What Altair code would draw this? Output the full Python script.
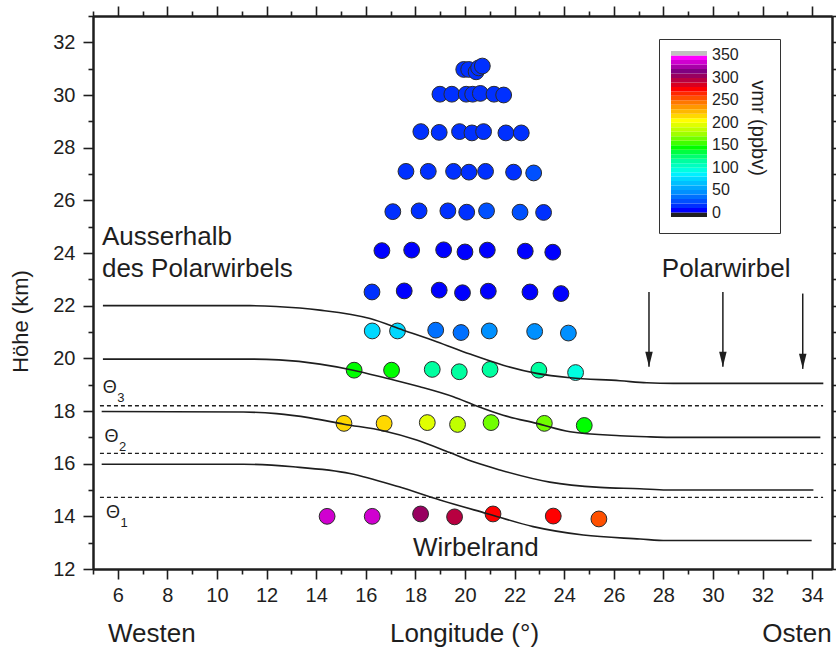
import altair as alt
import pandas as pd

FONT = "Liberation Sans"
INK = "#1e1e1e"

# ---------------- balloon soundings ----------------
row14_lon = [14.44, 16.26, 18.21, 19.58, 21.13, 23.56, 25.40]
row14_alt = [14.00, 14.00, 14.09, 13.98, 14.09, 14.01, 13.90]
row14_vmr = [335, 335, 305, 295, 275, 275, 255]

row17_lon = [15.12, 16.74, 18.48, 19.70, 21.05, 23.20, 24.81]
row17_alt = [17.53, 17.53, 17.56, 17.49, 17.56, 17.53, 17.45]
row17_vmr = [215, 215, 195, 185, 165, 165, 145]

row19_lon = [15.53, 17.04, 18.68, 19.77, 21.01, 22.98, 24.46]
row19_alt = [19.55, 19.55, 19.58, 19.49, 19.58, 19.55, 19.46]
row19_vmr = [145, 145, 115, 115, 112, 115, 95]

row21_lon = [16.26, 17.28, 18.82, 19.84, 20.98, 22.81, 24.17]
row21_alt = [21.04, 21.04, 21.07, 20.98, 21.04, 21.02, 20.96]
row21_vmr = [75, 75, 35, 35, 45, 45, 45]

row22_lon = [16.25, 17.55, 18.96, 19.90, 20.94, 22.62, 23.87]
row22_alt = [22.52, 22.56, 22.59, 22.49, 22.55, 22.52, 22.46]
row22_vmr = [15, 5, 5, 5, 5, 5, 5]

row24_lon = [16.65, 17.85, 19.14, 20.00, 20.90, 22.43, 23.54]
row24_alt = [24.09, 24.11, 24.12, 24.04, 24.11, 24.07, 24.03]
row24_vmr = [5, 5, 5, 5, 5, 5, 5]

row25_lon = [17.09, 18.15, 19.31, 20.07, 20.87, 22.22, 23.17]
row25_alt = [25.57, 25.60, 25.60, 25.55, 25.60, 25.55, 25.54]
row25_vmr = [15, 15, 15, 15, 25, 25, 15]

row27_lon = [17.62, 18.52, 19.54, 20.16, 20.83, 21.96, 22.77]
row27_alt = [27.10, 27.10, 27.10, 27.07, 27.10, 27.07, 27.04]
row27_vmr = [15, 15, 15, 15, 15, 15, 25]

row28_lon = [18.22, 18.96, 19.78, 20.28, 20.75, 21.65, 22.27]
row28_alt = [28.61, 28.58, 28.61, 28.56, 28.61, 28.56, 28.56]
row28_vmr = [15, 15, 15, 15, 15, 15, 15]

row30_lon = [18.99, 19.47, 20.05, 20.31, 20.62, 21.17, 21.56]
row30_alt = [30.03, 30.03, 30.03, 30.03, 30.06, 30.03, 30.00]
row30_vmr = [15, 15, 15, 15, 15, 15, 15]

row31_lon = [19.95, 20.15, 20.45, 20.55, 20.70]
row31_alt = [30.97, 30.97, 30.88, 31.03, 31.10]
row31_vmr = [15, 15, 15, 15, 15]

# ---------------- isentropes (solid) ----------------
c1_lon = [5.40, 11.33, 13.34, 14.15, 16.17, 17.51, 18.86, 20.20, 21.54, 22.89, 24.24, 26.25, 27.33, 28.40, 34.45]
c1_alt = [22.00, 22.00, 21.91, 21.83, 21.51, 21.07, 20.63, 20.16, 19.74, 19.43, 19.26, 19.15, 19.07, 19.05, 19.05]
c2_lon = [5.40, 11.33, 12.50, 14.15, 15.49, 16.84, 18.18, 19.53, 20.47, 21.54, 22.89, 24.24, 26.25, 27.33, 28.27, 34.33]
c2_alt = [19.97, 19.97, 19.94, 19.78, 19.55, 19.24, 18.92, 18.54, 18.19, 17.84, 17.53, 17.21, 17.06, 17.02, 17.00, 17.00]
c3_lon = [5.35, 11.06, 12.40, 13.75, 15.12, 16.74, 18.05, 19.39, 20.40, 21.41, 23.42, 25.44, 27.05, 28.13, 34.05]
c3_alt = [17.98, 17.96, 17.90, 17.74, 17.50, 17.24, 16.90, 16.42, 16.05, 15.76, 15.30, 15.10, 15.05, 15.00, 15.00]
c4_lon = [5.35, 11.06, 13.07, 15.36, 17.34, 18.99, 20.87, 22.75, 24.77, 27.06, 28.13, 33.98]
c4_alt = [15.98, 15.98, 15.88, 15.63, 15.12, 14.62, 14.11, 13.61, 13.29, 13.14, 13.08, 13.08]

# ---------------- Theta levels (dashed) ----------------
theta_alt = [18.20, 16.39, 14.72]
theta_x0 = [5.28, 5.28, 5.28]
theta_x1 = [34.44, 34.44, 34.44]
theta_sym = ["Θ", "Θ", "Θ"]
theta_sub = ["3", "2", "1"]
theta_lab_lon = [5.68, 5.75, 5.81]
theta_lab_alt = [18.86, 17.02, 14.14]

# ---------------- arrows ----------------
arrow_lon = [27.42, 30.40, 33.62]
arrow_top = [22.52, 22.52, 22.46]
arrow_tip = [19.68, 19.68, 19.60]

# ---------------- annotations ----------------
note_left_text = ["Ausserhalb", "des Polarwirbels"]
note_left_lon = [5.36, 5.36]
note_left_alt = [24.32, 23.09]
note_mid_text = ["Polarwirbel", "Wirbelrand", "Westen", "Osten"]
note_mid_lon = [30.53, 20.44, 7.37, 33.39]
note_mid_alt = [23.09, 12.49, 9.24, 9.24]

# ---------------- colour bar ----------------
vmr_breaks = [0, 10, 20, 30, 40, 50, 60, 70, 80, 90, 100, 110, 120, 130, 140, 150, 160, 170,
              180, 190, 200, 210, 220, 230, 240, 250, 260, 270, 280, 290, 300, 310, 320, 330,
              340, 350]
band_colors = ["#202020",
               "#0000ff", "#0030ff", "#0050ff", "#0070ff", "#0090ff", "#00a8ff", "#00c0ff",
               "#00d8ff", "#00f0ff", "#00ffe0", "#00ffc0", "#00ffa0", "#00ff70", "#00ff40",
               "#00ff00", "#40ff00", "#70ff00", "#a0ff00", "#c0ff00", "#e0ff00", "#ffff00",
               "#ffd800", "#ffb800", "#ff9800", "#ff7800", "#ff5000", "#ff2800", "#ff0000",
               "#d80020", "#b80040", "#980060", "#800080", "#a800a8", "#d000d0", "#ff00ff",
               "#c0c0c0"]

x_major = [6, 8, 10, 12, 14, 16, 18, 20, 22, 24, 26, 28, 30, 32, 34]
x_minor = [5, 7, 9, 11, 13, 15, 17, 19, 21, 23, 25, 27, 29, 31, 33]
y_major = [12, 14, 16, 18, 20, 22, 24, 26, 28, 30, 32]
y_minor = [13, 15, 17, 19, 21, 23, 25, 27, 29, 31, 33]

# ---------------- tables ----------------
rows = [
    (row14_lon, row14_alt, row14_vmr), (row17_lon, row17_alt, row17_vmr),
    (row19_lon, row19_alt, row19_vmr), (row21_lon, row21_alt, row21_vmr),
    (row22_lon, row22_alt, row22_vmr), (row24_lon, row24_alt, row24_vmr),
    (row25_lon, row25_alt, row25_vmr), (row27_lon, row27_alt, row27_vmr),
    (row28_lon, row28_alt, row28_vmr), (row30_lon, row30_alt, row30_vmr),
    (row31_lon, row31_alt, row31_vmr),
]
pts = pd.DataFrame({
    "lon": [v for r in rows for v in r[0]],
    "alt": [v for r in rows for v in r[1]],
    "vmr": [v for r in rows for v in r[2]],
})
pts["order"] = range(len(pts))

curve_list = [("c1", c1_lon, c1_alt), ("c2", c2_lon, c2_alt),
              ("c3", c3_lon, c3_alt), ("c4", c4_lon, c4_alt)]
curves = pd.DataFrame({
    "curve": [n for n, lo, al in curve_list for _ in lo],
    "lon": [v for n, lo, al in curve_list for v in lo],
    "alt": [v for n, lo, al in curve_list for v in al],
})
dashed = pd.DataFrame({"alt": theta_alt, "x0": theta_x0, "x1": theta_x1})
thetas = pd.DataFrame({"lon": theta_lab_lon, "alt": theta_lab_alt, "sym": theta_sym, "sub": theta_sub})
arrows = pd.DataFrame({"lon": arrow_lon, "top": arrow_top, "tip": arrow_tip})
notes_left = pd.DataFrame({"lon": note_left_lon, "alt": note_left_alt, "text": note_left_text})
notes_mid = pd.DataFrame({"lon": note_mid_lon, "alt": note_mid_alt, "text": note_mid_text})

# ---------------- scales & axes ----------------
xs = alt.Scale(domain=[5, 34.8], nice=False, zero=False)
ys = alt.Scale(domain=[12, 33], nice=False, zero=False)

common = dict(grid=False, domainColor=INK, domainWidth=2, tickColor=INK, tickWidth=1.6,
              labelFont=FONT, labelColor=INK, titleFont=FONT, titleColor=INK,
              titleFontWeight="normal")


def axis(orient, values, size, labels=False, **kw):
    opts = dict(common)
    opts.update(dict(orient=orient, values=values, tickSize=size, labels=labels))
    if "title" not in kw:
        opts["title"] = None
    opts.update(kw)
    return alt.Axis(**opts)


ax_bottom_major = axis("bottom", x_major, 10, labels=True, labelFontSize=20, labelPadding=6,
                       format="d", title="Longitude (°)", titleFontSize=26,
                       titleX=371, titleY=72, titleBaseline="alphabetic")
ax_bottom_minor = axis("bottom", x_minor, 5)
ax_top_major = axis("top", x_major, 10)
ax_top_minor = axis("top", x_minor, 5)
ax_left_major = axis("left", y_major, 10, labels=True, labelFontSize=20, labelPadding=8,
                     format="d", title="Höhe (km)", titleFontSize=22, titleX=-66, titleY=305,
                     titleAngle=270, titleBaseline="alphabetic", titleAlign="center")
ax_left_minor = axis("left", y_minor, 5)
ax_right_major = axis("right", y_major, 10)
ax_right_minor = axis("right", y_minor, 5)

legend = alt.Legend(
    title="vmr (ppbv)", type="gradient", orient="none", legendX=566, legendY=23,
    direction="vertical", gradientLength=166, gradientThickness=36, gradientStrokeWidth=0,
    labelExpr="datum.value % 50 === 0 ? datum.label : ''", labelOverlap=False,
    labelFontSize=16, labelFont=FONT, labelColor=INK, labelOffset=5,
    titleOrient="right", titleFontSize=20, titleFont=FONT, titleFontWeight="normal",
    titleColor=INK, titlePadding=9, titleAnchor="middle",
    padding=12, strokeColor="#333333", fillColor="white",
)

dots = alt.Chart(pts).mark_circle(size=250, opacity=1, stroke="#2b2b2b", strokeWidth=1).encode(
    x=alt.X("lon:Q", scale=xs, axis=ax_bottom_major),
    y=alt.Y("alt:Q", scale=ys, axis=ax_left_major),
    color=alt.Color("vmr:Q", scale=alt.Scale(type="threshold", domain=vmr_breaks, range=band_colors),
                    legend=legend),
    order="order:Q",
)

lines = alt.Chart(curves).mark_line(color=INK, strokeWidth=1.6, interpolate="monotone").encode(
    x=alt.X("lon:Q", scale=xs, axis=ax_bottom_minor),
    y=alt.Y("alt:Q", scale=ys, axis=ax_left_minor),
    detail="curve:N",
)

dash = alt.Chart(dashed).mark_rule(color=INK, strokeWidth=1.3, strokeDash=[4, 3]).encode(
    x=alt.X("x0:Q", scale=xs, axis=ax_top_major),
    x2="x1:Q",
    y=alt.Y("alt:Q", scale=ys, axis=ax_right_major),
)

arrow_shaft = alt.Chart(arrows).mark_rule(color=INK, strokeWidth=1.5).encode(
    x=alt.X("lon:Q", scale=xs, axis=ax_top_minor),
    y=alt.Y("top:Q", scale=ys, axis=ax_right_minor),
    y2="tip:Q",
)

arrow_head = alt.Chart(arrows).mark_point(
    shape="M-0.5,-1L0.5,-1L0,1Z", filled=True, size=225, color=INK, opacity=1,
    strokeWidth=0, yOffset=-7.5,
).encode(
    x=alt.X("lon:Q", scale=xs, axis=None),
    y=alt.Y("tip:Q", scale=ys, axis=None),
)

txt_left = alt.Chart(notes_left).mark_text(
    align="left", baseline="alphabetic", font=FONT, fontSize=26, color=INK,
).encode(
    x=alt.X("lon:Q", scale=xs, axis=None),
    y=alt.Y("alt:Q", scale=ys, axis=None),
    text="text:N",
)

txt_mid = alt.Chart(notes_mid).mark_text(
    align="center", baseline="alphabetic", font=FONT, fontSize=26, color=INK,
).encode(
    x=alt.X("lon:Q", scale=xs, axis=None),
    y=alt.Y("alt:Q", scale=ys, axis=None),
    text="text:N",
)

theta_txt = alt.Chart(thetas).mark_text(
    align="center", baseline="middle", font=FONT, fontSize=18, color=INK,
).encode(
    x=alt.X("lon:Q", scale=xs, axis=None),
    y=alt.Y("alt:Q", scale=ys, axis=None),
    text="sym:N",
)

theta_subtxt = alt.Chart(thetas).mark_text(
    align="center", baseline="middle", font=FONT, fontSize=13, color=INK, dx=11, dy=10,
).encode(
    x=alt.X("lon:Q", scale=xs, axis=None),
    y=alt.Y("alt:Q", scale=ys, axis=None),
    text="sub:N",
)

chart = alt.layer(
    dots, lines, dash, arrow_shaft, arrow_head, txt_left, txt_mid, theta_txt, theta_subtxt
).resolve_axis(x="independent", y="independent").properties(
    width=739, height=553,
    padding={"left": 93, "top": 16, "right": 4, "bottom": 85},
    autosize=alt.AutoSizeParams(type="none"),
    background="white",
).configure_view(stroke=None)

chart.save("out.html", embed_options={"renderer": "svg", "actions": False})
